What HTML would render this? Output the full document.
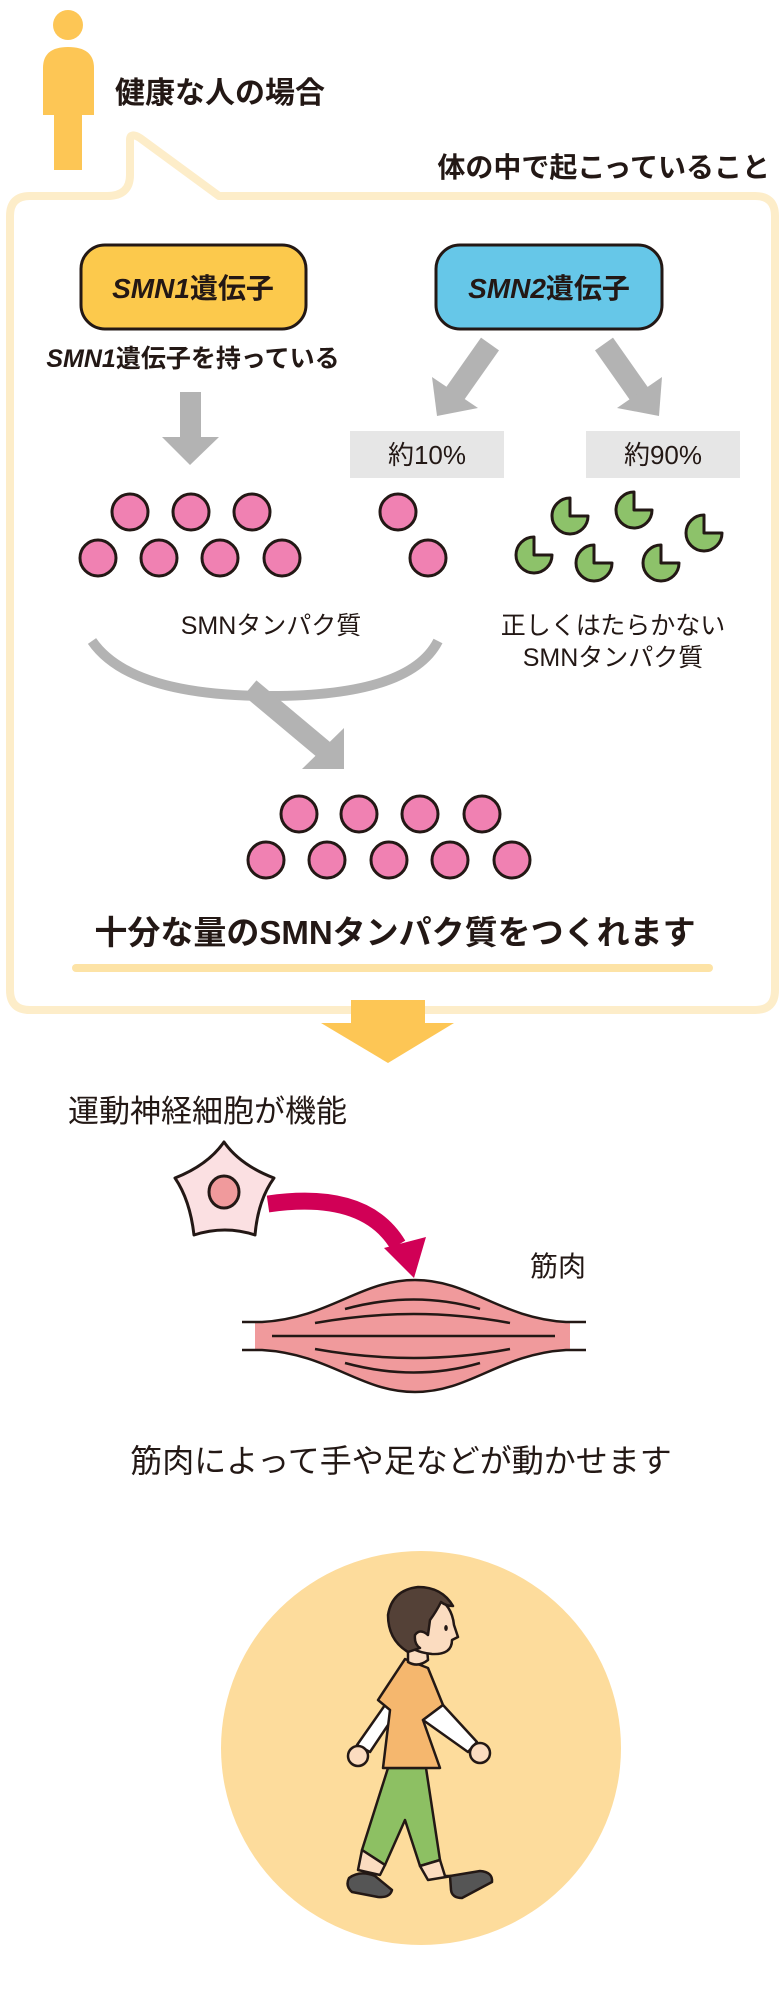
<!DOCTYPE html>
<html><head><meta charset="utf-8"><style>
html,body{margin:0;padding:0;background:#fff;}
svg{display:block;}
text{font-family:"Liberation Sans","Noto Sans CJK JP",sans-serif;fill:#231815;}
.b{font-weight:bold;}
</style></head><body>
<svg width="780" height="1996" viewBox="0 0 780 1996" xmlns="http://www.w3.org/2000/svg">
<circle cx="68" cy="25" r="15" fill="#fdc655"/>
<path d="M43,115 L43,68 Q43,47 68,47 Q94,47 94,68 L94,115 L82,115 L82,170 L54,170 L54,115 Z" fill="#fdc655"/>
<text x="115" y="103" font-size="30" class="b">健康な人の場合</text>
<path d="M30,196 L107,196 Q130,196 130,175 L130,140 Q130,132 140,138 L219,196 L755,196 Q775,196 775,216 L775,990 Q775,1010 755,1010 L30,1010 Q10,1010 10,990 L10,216 Q10,196 30,196 Z" fill="none" stroke="#fdedc9" stroke-width="8" stroke-linejoin="round"/>
<text x="770" y="177" font-size="28" class="b" text-anchor="end">体の中で起こっていること</text>
<rect x="81" y="245" width="225" height="84" rx="24" fill="#fcc94c" stroke="#231815" stroke-width="3"/>
<text x="193" y="298" font-size="28" class="b" text-anchor="middle"><tspan font-style="italic">SMN1</tspan>遺伝子</text>
<rect x="436" y="245" width="226" height="84" rx="24" fill="#66c7e8" stroke="#231815" stroke-width="3"/>
<text x="549" y="298" font-size="28" class="b" text-anchor="middle"><tspan font-style="italic">SMN2</tspan>遺伝子</text>
<text x="193" y="367" font-size="25" class="b" text-anchor="middle"><tspan font-style="italic">SMN1</tspan>遺伝子を持っている</text>
<rect x="180" y="392" width="21" height="46" fill="#b3b3b3"/>
<polygon points="162,437 219,437 190,465" fill="#b3b3b3"/>
<line x1="490" y1="344" x2="452" y2="398" stroke="#b3b3b3" stroke-width="22"/>
<polygon points="432,377 478,408 437,416" fill="#b3b3b3"/>
<line x1="604" y1="344" x2="642" y2="398" stroke="#b3b3b3" stroke-width="22"/>
<polygon points="662,377 617,408 659,416" fill="#b3b3b3"/>
<rect x="350" y="431" width="154" height="47" fill="#e6e6e6"/>
<text x="427" y="464" font-size="26" text-anchor="middle">約10%</text>
<rect x="586" y="431" width="154" height="47" fill="#e6e6e6"/>
<text x="663" y="464" font-size="26" text-anchor="middle">約90%</text>
<g fill="#f081b2" stroke="#231815" stroke-width="3">
<circle cx="130" cy="512" r="18"/><circle cx="191" cy="512" r="18"/><circle cx="252" cy="512" r="18"/>
<circle cx="98" cy="558" r="18"/><circle cx="159" cy="558" r="18"/><circle cx="220" cy="558" r="18"/><circle cx="282" cy="558" r="18"/>
<circle cx="398" cy="512" r="18"/><circle cx="428" cy="558" r="18"/>
<circle cx="299" cy="814" r="18"/><circle cx="359" cy="814" r="18"/><circle cx="420" cy="814" r="18"/><circle cx="482" cy="814" r="18"/>
<circle cx="266" cy="860" r="18"/><circle cx="327" cy="860" r="18"/><circle cx="389" cy="860" r="18"/><circle cx="450" cy="860" r="18"/><circle cx="512" cy="860" r="18"/>
</g>
<g fill="#8dc26a" stroke="#231815" stroke-width="3" stroke-linejoin="round">
<path d="M570,516 L570,498 A18,18 0 1 0 588,516 Z"/>
<path d="M634,510 L634,492 A18,18 0 1 0 652,510 Z"/>
<path d="M704,533 L704,515 A18,18 0 1 0 722,533 Z"/>
<path d="M534,555 L534,537 A18,18 0 1 0 552,555 Z"/>
<path d="M594,563 L594,545 A18,18 0 1 0 612,563 Z"/>
<path d="M661,563 L661,545 A18,18 0 1 0 679,563 Z"/>
</g>
<text x="271" y="634" font-size="25" text-anchor="middle">SMNタンパク質</text>
<text x="613" y="634" font-size="25" text-anchor="middle">正しくはたらかない</text>
<text x="613" y="666" font-size="25" text-anchor="middle">SMNタンパク質</text>
<path d="M92,641 Q130,696 270,696 Q410,696 438,641" fill="none" stroke="#b3b3b3" stroke-width="10"/>
<line x1="250" y1="688" x2="330" y2="755" stroke="#b3b3b3" stroke-width="20"/>
<polygon points="302,769 344,769 344,728" fill="#b3b3b3"/>
<text x="395" y="944" font-size="33" class="b" text-anchor="middle">十分な量のSMNタンパク質をつくれます</text>
<line x1="76" y1="968" x2="709" y2="968" stroke="#fde3a6" stroke-width="8" stroke-linecap="round"/>
<rect x="351" y="1000" width="74" height="24" fill="#fdc655"/>
<polygon points="321,1023 454,1023 388,1063" fill="#fdc655"/>
<text x="68" y="1122" font-size="31">運動神経細胞が機能</text>
<path d="M224,1142 Q240,1165 274,1178 Q258,1200 255,1235 Q225,1225 194,1235 Q190,1200 175,1178 Q208,1165 224,1142 Z" fill="#fbe0e2" stroke="#231815" stroke-width="3" stroke-linejoin="round"/>
<ellipse cx="224" cy="1192" rx="15" ry="16" fill="#f09a9c" stroke="#231815" stroke-width="3"/>
<path d="M268,1204 Q365,1190 398,1245" fill="none" stroke="#d10056" stroke-width="17"/>
<polygon points="384,1248 426,1237 414,1278" fill="#d10056"/>
<text x="530" y="1276" font-size="28">筋肉</text>
<path d="M255,1322 C330,1318 360,1280 415,1280 C470,1280 500,1318 570,1322 L570,1350 C500,1354 470,1392 415,1392 C360,1392 330,1354 255,1350 Z" fill="#f09a9c"/>
<g fill="none" stroke="#231815" stroke-width="2.5">
<path d="M242,1322 L262,1322 C330,1318 360,1280 415,1280 C470,1280 500,1318 566,1322 L586,1322"/>
<path d="M242,1350 L262,1350 C330,1354 360,1392 415,1392 C470,1392 500,1354 566,1350 L586,1350"/>
<path d="M345,1309 Q415,1290 480,1309"/>
<path d="M315,1323 Q415,1305 510,1323"/>
<path d="M272,1336 L555,1336"/>
<path d="M315,1349 Q415,1367 510,1349"/>
<path d="M345,1363 Q415,1382 480,1363"/>
</g>
<text x="401" y="1472" font-size="32" text-anchor="middle">筋肉によって手や足などが動かせます</text>
<ellipse cx="421" cy="1748" rx="200" ry="197" fill="#fddc9c"/>
<g stroke="#231815" stroke-width="2.5" stroke-linejoin="round">
<path d="M385,1705 L398,1710 L370,1752 L357,1745 Z" fill="#fff"/>
<circle cx="358" cy="1756" r="10" fill="#fbdcc0"/>
<path d="M388,1768 L426,1768 L440,1860 L420,1866 L405,1820 L385,1865 L362,1850 Z" fill="#8dc063"/>
<path d="M362,1850 L385,1865 L380,1875 L358,1870 Z" fill="#fbdcc0"/>
<path d="M420,1866 L440,1860 L445,1876 L452,1876 L428,1880 Z" fill="#fbdcc0"/>
<path d="M349,1878 Q360,1870 375,1876 L392,1890 Q390,1898 378,1897 L352,1892 Q345,1886 349,1878 Z" fill="#555"/>
<path d="M450,1876 L480,1871 Q493,1872 492,1882 L462,1898 Q452,1898 451,1890 Z" fill="#555"/>
<path d="M405,1659 L428,1668 L443,1705 L423,1720 L440,1768 L383,1768 L390,1710 L378,1700 Z" fill="#f5b76e"/>
<path d="M423,1720 L443,1705 L477,1742 L468,1752 Z" fill="#fff"/>
<circle cx="480" cy="1753" r="10" fill="#fbdcc0"/>
<path d="M408,1640 L408,1662 Q418,1668 428,1660 L427,1648 Z" fill="#fbdcc0"/>
<path d="M400,1615 Q410,1592 435,1596 Q452,1605 454,1625 L458,1637 L452,1640 Q452,1655 432,1654 Q410,1652 402,1638 Z" fill="#fbdcc0"/>
<path d="M408,1652 Q388,1640 388,1615 Q392,1590 418,1587 Q442,1587 453,1606 Q446,1606 441,1602 Q436,1612 430,1620 L428,1635 Q420,1628 415,1635 Q414,1644 420,1648 Z" fill="#544137"/>
</g>
<ellipse cx="446" cy="1628" rx="1.8" ry="3" fill="#231815"/>
</svg>
</body></html>
